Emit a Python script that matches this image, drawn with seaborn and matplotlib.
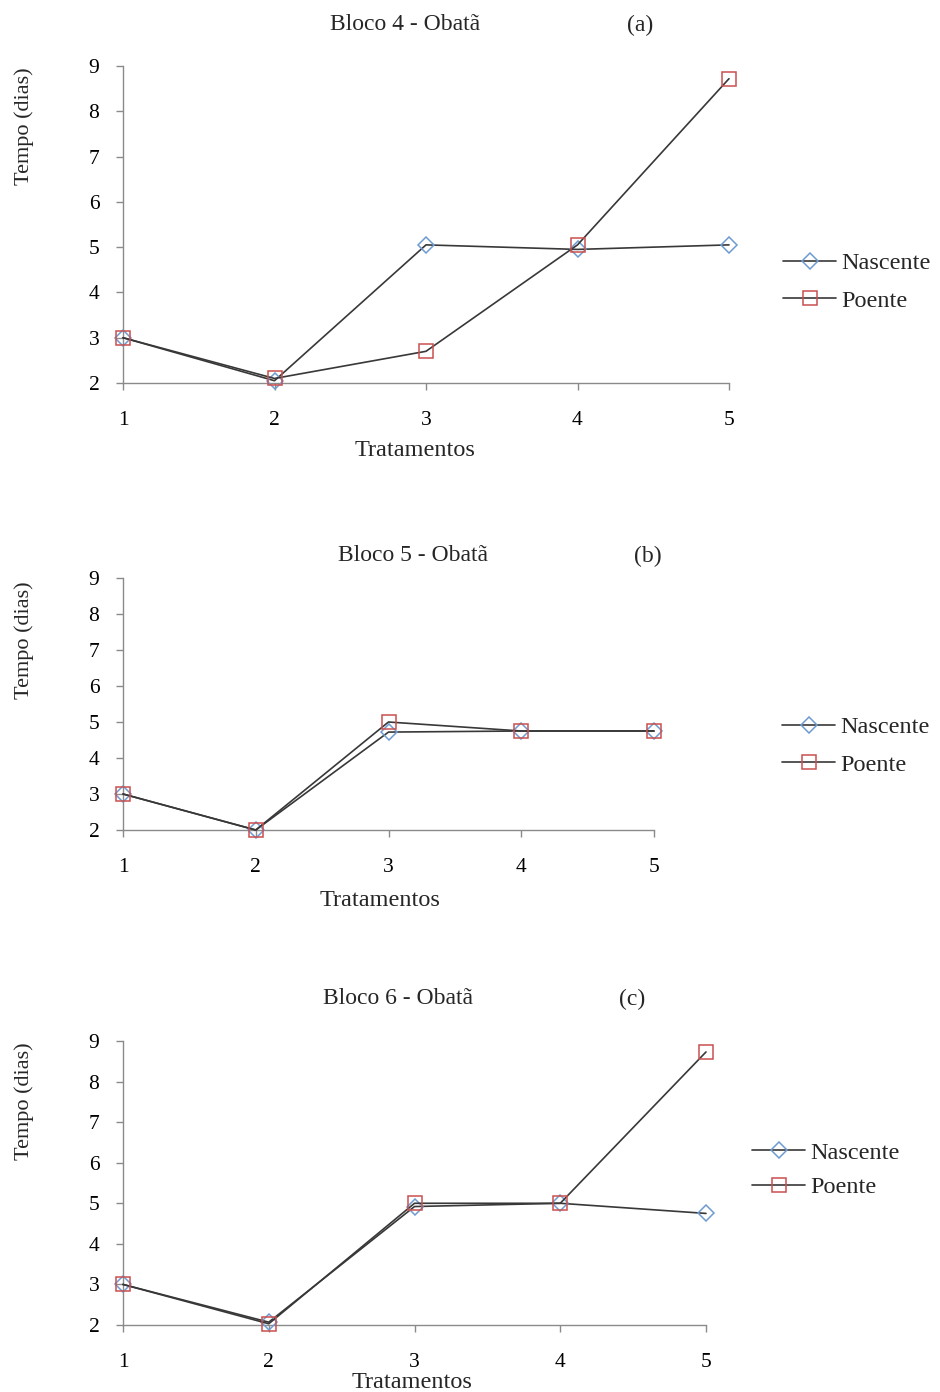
import numpy as np
import pandas as pd
import matplotlib
matplotlib.use("Agg")
import matplotlib.pyplot as plt
import seaborn as sns

# ---- data ----
tratamentos = [1, 2, 3, 4, 5]
series_names = ["Nascente", "Poente"]

nascente_a = [3.0, 2.05, 5.05, 4.95, 5.05]
poente_a = [3.0, 2.10, 2.70, 5.05, 8.72]

nascente_b = [3.0, 2.00, 4.72, 4.75, 4.75]
poente_b = [3.0, 2.00, 5.00, 4.75, 4.75]

nascente_c = [3.0, 2.07, 4.92, 5.00, 4.75]
poente_c = [3.0, 2.03, 5.00, 5.00, 8.73]

titles = ["Bloco 4 - Obatã", "Bloco 5 - Obatã", "Bloco 6 - Obatã"]
letters = ["(a)", "(b)", "(c)"]
y_ticks = [2, 3, 4, 5, 6, 7, 8, 9]

# ---- style ----
sns.set_style("white")
plt.rcParams["font.family"] = ["Liberation Serif", "DejaVu Serif"]

W, H = 940, 1392
fig = plt.figure(figsize=(W / 100, H / 100), dpi=100)


def fx(px):
    return px / W


def fy(py):
    return 1 - py / H


line_color = "#383838"
edge_colors = {"Nascente": "#6e9bd2", "Poente": "#c9504e"}
marker_sizes = {"Nascente": 8.0, "Poente": 10.0}
axis_gray = "#8a8a8a"

panels = [
    dict(nas=nascente_a, poe=poente_a, box=(123, 729, 66, 383),
         title=(405, 25), letter=(640, 25), ylab=(24, 126), xlab=(415, 450),
         leg=(783, 282), spacing=0.62),
    dict(nas=nascente_b, poe=poente_b, box=(123, 654, 578, 830),
         title=(413, 556), letter=(648, 556), ylab=(24, 640), xlab=(380, 900),
         leg=(782, 746), spacing=0.62),
    dict(nas=nascente_c, poe=poente_c, box=(123, 706, 1041, 1325),
         title=(398, 999), letter=(632, 999), ylab=(24, 1101), xlab=(412, 1383),
         leg=(752, 1170), spacing=0.50),
]

for i, p in enumerate(panels):
    l, r, t, b = p["box"]
    ax = fig.add_axes([fx(l), fy(b), fx(r) - fx(l), fy(t) - fy(b)])

    df = pd.DataFrame({
        "Tratamentos": tratamentos * 2,
        "Tempo": list(p["nas"]) + list(p["poe"]),
        "Série": ["Nascente"] * 5 + ["Poente"] * 5,
    })
    sns.lineplot(
        data=df, x="Tratamentos", y="Tempo", hue="Série", style="Série",
        hue_order=series_names, style_order=series_names,
        palette={n: line_color for n in series_names},
        markers={"Nascente": "D", "Poente": "s"}, dashes=False,
        linewidth=1.2, legend=False, ax=ax,
    )
    for line, name in zip(ax.lines, series_names):
        line.set_markerfacecolor("none")
        line.set_markeredgecolor(edge_colors[name])
        line.set_markeredgewidth(1.1)
        line.set_markersize(marker_sizes[name])
        line.set_clip_on(False)
        line.set_zorder(3 if name == "Nascente" else 4)

    ax.set_xlim(1, 5)
    ax.set_ylim(2, 9)
    ax.set_xticks(tratamentos)
    ax.set_yticks(y_ticks)
    ax.set_xlabel("")
    ax.set_ylabel("")
    sns.despine(ax=ax)
    for s in ("left", "bottom"):
        ax.spines[s].set_color(axis_gray)
        ax.spines[s].set_linewidth(1.0)
    ax.tick_params(axis="both", direction="out", length=5, width=1.0,
                   color=axis_gray, labelsize=15.5, labelcolor="black",
                   bottom=True, left=True)
    ax.tick_params(axis="x", pad=15)
    ax.tick_params(axis="y", pad=12)

    ax.legend(
        handles=ax.lines[:2], labels=series_names, loc="center left",
        bbox_to_anchor=(fx(p["leg"][0]), fy(p["leg"][1])),
        bbox_transform=fig.transFigure, frameon=False, fontsize=17.5,
        handlelength=2.2, handletextpad=0.2, borderpad=0, borderaxespad=0,
        labelspacing=p["spacing"], numpoints=1,
    )

    fig.text(fx(p["title"][0]), fy(p["title"][1]), titles[i],
             ha="center", va="center", fontsize=17)
    fig.text(fx(p["letter"][0]), fy(p["letter"][1]), letters[i],
             ha="center", va="center", fontsize=17)
    fig.text(fx(p["ylab"][0]), fy(p["ylab"][1]), "Tempo (dias)",
             ha="center", va="center", rotation=90, fontsize=16)
    fig.text(fx(p["xlab"][0]), fy(p["xlab"][1]), "Tratamentos",
             ha="center", va="center", fontsize=17.5)

fig.savefig("out.png", dpi=100, facecolor="white")
